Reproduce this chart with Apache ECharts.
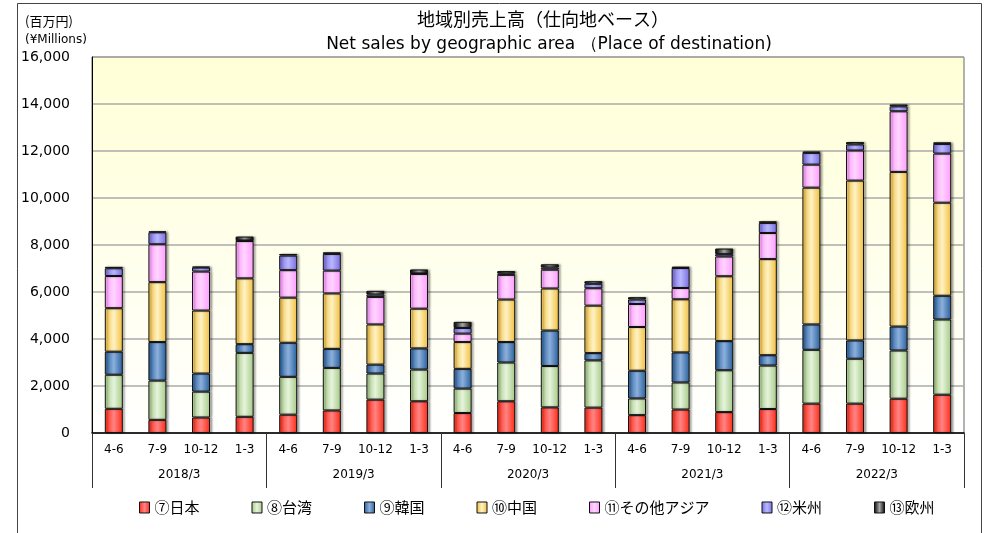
<!DOCTYPE html>
<html>
<head>
<meta charset="utf-8">
<script src="https://cdn.jsdelivr.net/npm/echarts@6/dist/echarts.min.js"></script>
<style>
html, body { margin: 0; padding: 0; background: #fff; }
#chart0 { width: 984px; height: 533px; }
</style>
</head>
<body>
<div id="chart0"></div>
<script>
'use strict';

// quarters and fiscal years
var quarters = ['4-6', '7-9', '10-12', '1-3', '4-6', '7-9', '10-12', '1-3', '4-6', '7-9',
	'10-12', '1-3', '4-6', '7-9', '10-12', '1-3', '4-6', '7-9', '10-12', '1-3'];
var years = ['2018/3', '2019/3', '2020/3', '2021/3', '2022/3'];
var yTicks = [0, 2000, 4000, 6000, 8000, 10000, 12000, 14000, 16000];

// values (¥ millions)
var japan = [1030, 560, 660, 690, 780, 960, 1420, 1350, 850, 1350, 1090, 1080, 760, 1000, 890, 1020, 1250, 1250, 1460, 1630];
var taiwan = [1450, 1670, 1100, 2720, 1610, 1810, 1110, 1350, 1040, 1650, 1760, 2010, 710, 1150, 1780, 1850, 2290, 1910, 2050, 3200];
var korea = [980, 1640, 770, 370, 1450, 810, 380, 900, 840, 870, 1510, 310, 1180, 1280, 1240, 440, 1080, 780, 1020, 1010];
var china = [1850, 2550, 2680, 2800, 1920, 2360, 1710, 1690, 1140, 1810, 1790, 2020, 1860, 2260, 2760, 4090, 5820, 6800, 6580, 3960];
var otherAsia = [1370, 1610, 1660, 1590, 1170, 970, 1170, 1480, 360, 1050, 800, 740, 980, 480, 840, 1110, 980, 1280, 2580, 2090];
var americas = [330, 510, 170, 20, 620, 710, 100, 20, 240, 60, 90, 190, 190, 850, 100, 430, 500, 260, 210, 410];
var europe = [60, 40, 40, 170, 70, 70, 160, 170, 260, 100, 140, 110, 100, 60, 240, 70, 60, 100, 80, 70];

var jp = '"Noto Sans CJK JP", sans-serif';
var latin = '"DejaVu Sans", sans-serif';

function grad(edge, mid) {
	return new echarts.graphic.LinearGradient(0, 0, 1, 0, [
		{ offset : 0, color : edge },
		{ offset : 0.5, color : mid },
		{ offset : 1, color : edge }
	]);
}

function bar(name, data, edge, mid) {
	return {
		name : name,
		type : 'bar',
		stack : 'a',
		barWidth : 18,
		data : data,
		itemStyle : {
			color : grad(edge, mid),
			borderColor : '#111',
			borderWidth : 1,
			shadowColor : 'rgba(0,0,0,0.3)',
			shadowBlur : 2,
			shadowOffsetX : 2
		}
	};
}

var chart0 = echarts.init(document.getElementById('chart0'));
chart0.setOption({
	animation : false,
	title : [ {
		text : '地域別売上高（仕向地ベース）',
		left : 538,
		textAlign : 'center',
		top : 5,
		textStyle : { fontFamily : jp, fontSize : 18, fontWeight : 'normal', color : '#000' }
	}, {
		text : 'Net sales by geographic area （Place of destination)',
		left : 544,
		textAlign : 'center',
		top : 31,
		textStyle : { fontFamily : latin, fontSize : 17, fontWeight : 'normal', color : '#000' }
	}, {
		text : '(百万円)',
		left : 20,
		top : 10,
		textStyle : { fontFamily : jp, fontSize : 13, fontWeight : 'normal', color : '#000' }
	}, {
		text : '(¥Millions)',
		left : 20,
		top : 29,
		textStyle : { fontFamily : latin, fontSize : 12, fontWeight : 'normal', color : '#000' }
	} ],
	graphic : [ {
		type : 'rect',
		shape : { x : 17.5, y : 3.5, width : 964, height : 540 },
		style : { fill : 'none', stroke : '#444', lineWidth : 1 },
		silent : true
	} ],
	legend : {
		bottom : 13,
		left : 134,
		icon : 'rect',
		itemWidth : 10,
		itemHeight : 11,
		itemGap : 52,
		itemStyle : { borderColor : '#111', borderWidth : 1 },
		textStyle : { fontFamily : jp, fontSize : 15, color : '#000' },
		data : [ '⑦日本', '⑧台湾', '⑨韓国', '⑩中国', '⑪その他アジア', '⑫米州', '⑬欧州' ]
	},
	grid : {
		left : 92,
		right : 20,
		top : 57,
		bottom : 100,
		show : true,
		borderColor : '#666',
		borderWidth : 1,
		backgroundColor : new echarts.graphic.LinearGradient(0, 0, 0, 1, [
			{ offset : 0, color : '#ffffd6' },
			{ offset : 1, color : '#ffffff' }
		])
	},
	xAxis : [ {
		type : 'category',
		data : quarters,
		axisLine : { lineStyle : { color : '#000', width : 1.5 } },
		axisTick : { show : false },
		axisLabel : { interval : 0, margin : 11, fontFamily : latin, fontSize : 12, color : '#000' }
	}, {
		type : 'category',
		data : years,
		position : 'bottom',
		axisLine : { show : false },
		axisTick : { show : true, length : 55, lineStyle : { color : '#333' } },
		axisLabel : { interval : 0, margin : 36, fontFamily : latin, fontSize : 12, color : '#000' }
	} ],
	yAxis : {
		type : 'value',
		min : yTicks[0],
		max : yTicks[yTicks.length - 1],
		interval : yTicks[1] - yTicks[0],
		axisLine : { show : true, lineStyle : { color : '#000', width : 1 } },
		axisTick : { show : false },
		splitLine : { lineStyle : { color : '#aaa', width : 1.5 } },
		axisLabel : {
			margin : 22,
			fontFamily : latin,
			fontSize : 14,
			color : '#000',
			formatter : function(v) { return v.toLocaleString('en-US'); }
		}
	},
	series : [
		bar('⑦日本', japan, '#ff2a14', '#ff8484'),
		bar('⑧台湾', taiwan, '#a4c884', '#e6f4dc'),
		bar('⑨韓国', korea, '#285f9c', '#8cb0dc'),
		bar('⑩中国', china, '#f0be3c', '#fff2c4'),
		bar('⑪その他アジア', otherAsia, '#ff9cff', '#ffd4ff'),
		bar('⑫米州', americas, '#7a6ce0', '#b8b8ff'),
		bar('⑬欧州', europe, '#000000', '#a8a8a8')
	]
});
</script>
</body>
</html>
